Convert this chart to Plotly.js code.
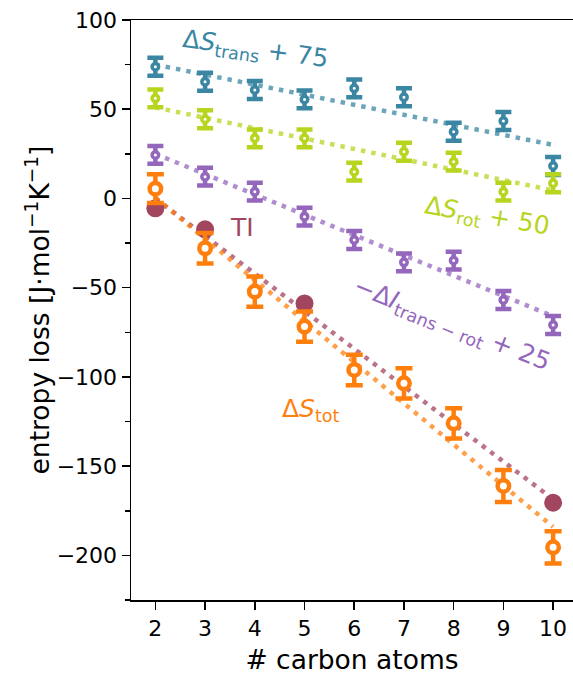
<!DOCTYPE html>
<html>
<head>
<meta charset="utf-8">
<script src="https://cdn.plot.ly/plotly-3.0.1.min.js"></script>
<style>
  html, body { margin: 0; padding: 0; background: #fff; }
  #chart { width: 573px; height: 675px; }
</style>
</head>
<body>
<div id="chart"></div>
<script>
// Number of carbon atoms in the chain
const carbons = [2, 3, 4, 5, 6, 7, 8, 9, 10];

// Entropy contributions (J mol^-1 K^-1), with offsets already applied
const dsTrans    = [73.8, 65.4, 60.8, 55.5, 61.7, 56.7, 37.4, 43.4, 18.2];   // ΔS_trans + 75
const dsTransErr = [5, 5, 5, 5, 5, 5, 5, 5, 5];
const dsRot      = [56.1, 44.4, 33.7, 33.7, 15.0, 26.2, 20.6, 3.8, 8.5];     // ΔS_rot + 50
const dsRotErr   = [5, 5, 5, 5, 5, 5, 5, 5, 5];
const dI         = [24.4, 12.2, 3.8, -10.2, -23.3, -35.8, -34.8, -56.9, -70.9]; // −ΔI_trans−rot + 25
const dIErr      = [5, 5, 5, 5, 5, 5, 5, 5, 5];
const dsTot      = [5.5, -27.9, -52.2, -71.8, -96.1, -103.6, -126.0, -161.1, -195.5]; // ΔS_tot
const dsTotErr   = [8, 8.5, 8.5, 8.5, 8.5, 8.5, 8.5, 9, 9];

// Thermodynamic integration reference values
const tiCarbons = [2, 3, 5, 10];
const tiValues  = [-5.5, -17.3, -58.8, -170.5];

// Linear trends (values at the ends of the carbon range)
const fitX     = [2, 10];
const fitTrans = [75, 30];
const fitRot   = [51, 4.5];
const fitI     = [25, -66];
const fitTot   = [0.5, -184];
const fitTI    = [0, -168.5];

const C_TRANS = '#3b87a3';
const C_ROT   = '#b6d51f';
const C_I     = '#9467bd';
const C_TOT   = '#ff7f0e';
const C_TI    = '#a2455f';

function trend(y, color) {
  return {
    x: fitX, y: y, mode: 'lines', type: 'scatter', hoverinfo: 'skip',
    line: { color: color, width: 4.5, dash: '4.5px,6px' }, opacity: 0.75
  };
}

function points(y, err, color, size, lw, capw, thick) {
  return {
    x: carbons, y: y, mode: 'markers', type: 'scatter',
    marker: { symbol: 'circle', size: size, color: '#ffffff', line: { color: color, width: lw } },
    error_y: { type: 'data', array: err, visible: true, color: color, thickness: thick, width: capw }
  };
}

const traces = [
  trend(fitTrans, C_TRANS),
  trend(fitRot, C_ROT),
  trend(fitI, C_I),
  trend(fitTI, C_TI),
  trend(fitTot, C_TOT),
  {
    x: tiCarbons, y: tiValues, mode: 'markers', type: 'scatter',
    marker: { symbol: 'circle', size: 18, color: C_TI }
  },
  points(dsTrans, dsTransErr, C_TRANS, 6.5, 3.5, 8, 4.5),
  points(dsRot, dsRotErr, C_ROT, 6.5, 3.5, 8, 4.5),
  points(dI, dIErr, C_I, 6.5, 3.5, 8, 4.5),
  points(dsTot, dsTotErr, C_TOT, 11.5, 4.5, 8.5, 4.5)
];

const FONT = 'DejaVu Sans, sans-serif';

function label(text, x, y, color, angle) {
  return {
    text: text, x: x, y: y, xref: 'x', yref: 'y', showarrow: false,
    textangle: angle, font: { family: FONT, size: 25, color: color }
  };
}

const layout = {
  width: 573, height: 675,
  margin: { l: 131, r: 0, t: 20, b: 75 },
  paper_bgcolor: '#ffffff', plot_bgcolor: '#ffffff',
  showlegend: false,
  font: { family: FONT, color: '#000000' },
  xaxis: {
    range: [1.51, 10.4],
    tickvals: carbons,
    ticks: 'outside', ticklen: 8, tickwidth: 1.5, tickcolor: '#000',
    showline: true, linewidth: 1.5, linecolor: '#000', mirror: true,
    showgrid: false, zeroline: false,
    tickfont: { family: FONT, size: 22, color: '#000' },
    title: { text: '# carbon atoms', font: { family: FONT, size: 26.5, color: '#000' } }
  },
  yaxis: {
    range: [-225, 100],
    tickvals: [-200, -150, -100, -50, 0, 50, 100],
    ticks: 'outside', ticklen: 8, tickwidth: 1.5, tickcolor: '#000',
    minor: { tickvals: [-225, -175, -125, -75, -25, 25, 75], ticks: 'outside', ticklen: 5, tickwidth: 1.5, tickcolor: '#000' },
    showline: true, linewidth: 1.5, linecolor: '#000',
    showgrid: false, zeroline: false,
    tickfont: { family: FONT, size: 22, color: '#000' },
    title: { text: 'entropy loss [J·mol<sup>−1</sup>K<sup>−1</sup>]', font: { family: FONT, size: 26.5, color: '#000' } }
  },
  annotations: [
    label('Δ<i>S</i><sub>trans</sub> + 75', 4.01, 83.2, C_TRANS, 8),
    label('Δ<i>S</i><sub>rot</sub> + 50', 8.67, -10.4, C_ROT, 10),
    label('−Δ<i>I</i><sub>trans − rot</sub> + 25', 7.96, -70.9, C_I, 22),
    label('TI', 3.75, -16.5, C_TI, 0),
    label('Δ<i>S</i><sub>tot</sub>', 5.13, -118.5, C_TOT, 0)
  ]
};

Plotly.newPlot('chart', traces, layout, { displayModeBar: false, staticPlot: true });
</script>
</body>
</html>
